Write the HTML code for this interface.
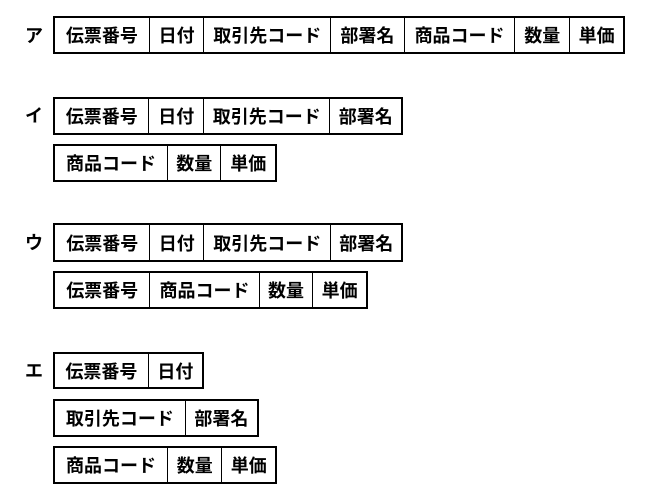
<!DOCTYPE html>
<html><head><meta charset="utf-8"><style>
body{margin:0;width:655px;height:501px;background:#fff;position:relative;overflow:hidden;font-family:"Liberation Sans","Noto Sans CJK JP",sans-serif;}
.lbl{position:absolute;font-size:18px;font-weight:bold;left:25px;line-height:20px;}
.row{position:absolute;display:flex;border:2px solid #000;box-sizing:border-box;}
.row div{box-sizing:border-box;border-left:1.5px solid #000;display:flex;align-items:center;justify-content:center;font-size:18px;font-weight:bold;letter-spacing:0px;white-space:nowrap;}
.row div:first-child{border-left:none;}
</style></head><body>
<div class="lbl" style="top:26px">ア</div>
<div class="row" style="left:53px;top:16px;width:572px;height:38px">
<div style="width:94px">伝票番号</div><div style="width:55px">日付</div><div style="width:127px">取引先コード</div><div style="width:74px">部署名</div><div style="width:111px">商品コード</div><div style="width:55px">数量</div><div style="width:54px">単価</div></div>

<div class="lbl" style="top:106px">イ</div>
<div class="row" style="left:53px;top:97px;width:350px;height:38px">
<div style="width:94px">伝票番号</div><div style="width:55px">日付</div><div style="width:127px">取引先コード</div><div style="width:72px">部署名</div></div>
<div class="row" style="left:53px;top:144px;width:224px;height:38px">
<div style="width:113px">商品コード</div><div style="width:54px">数量</div><div style="width:55px">単価</div></div>

<div class="lbl" style="top:233px">ウ</div>
<div class="row" style="left:53px;top:223px;width:350px;height:39px">
<div style="width:95px">伝票番号</div><div style="width:54px">日付</div><div style="width:128px">取引先コード</div><div style="width:71px">部署名</div></div>
<div class="row" style="left:53px;top:271px;width:315px;height:38px">
<div style="width:95px">伝票番号</div><div style="width:110px">商品コード</div><div style="width:54px">数量</div><div style="width:54px">単価</div></div>

<div class="lbl" style="top:361px">エ</div>
<div class="row" style="left:53px;top:352px;width:151px;height:37px">
<div style="width:94px">伝票番号</div><div style="width:55px">日付</div></div>
<div class="row" style="left:53px;top:399px;width:206px;height:38px">
<div style="width:131px">取引先コード</div><div style="width:73px">部署名</div></div>
<div class="row" style="left:53px;top:446px;width:224px;height:38px">
<div style="width:113px">商品コード</div><div style="width:55px">数量</div><div style="width:54px">単価</div></div>
</body></html>
